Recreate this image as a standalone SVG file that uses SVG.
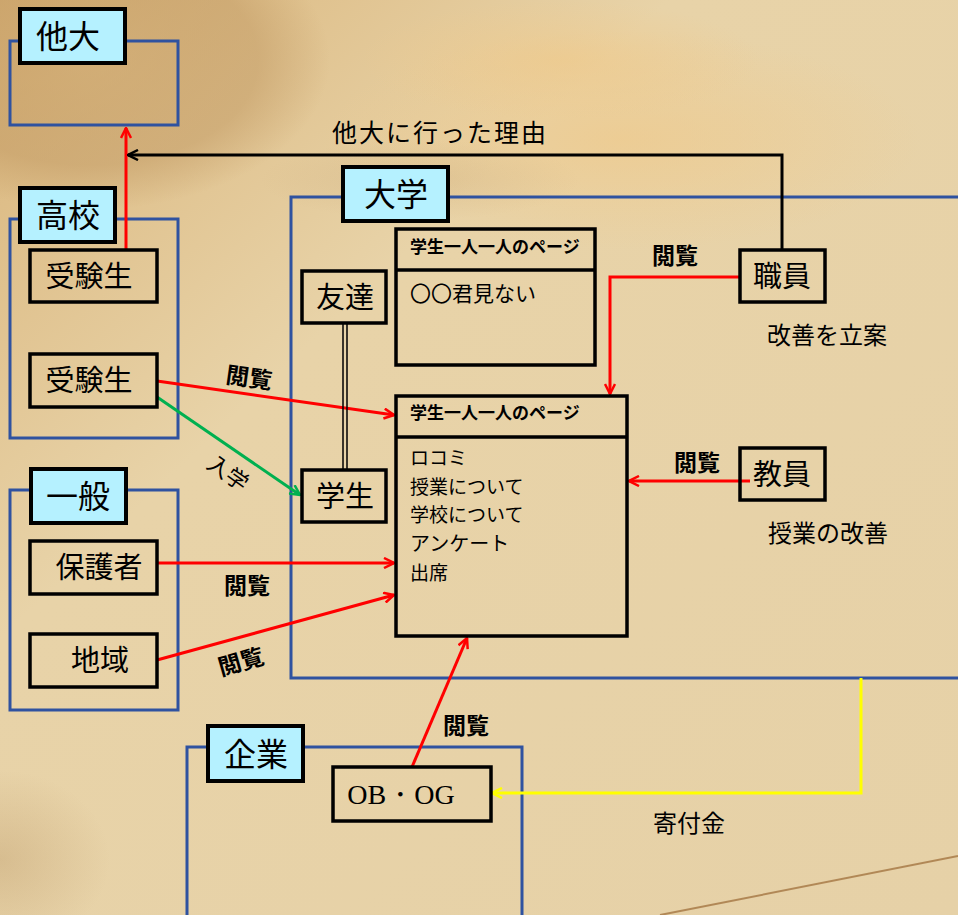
<svg xmlns="http://www.w3.org/2000/svg" width="958" height="915" viewBox="0 0 958 915">
<defs>
<linearGradient id="bg" x1="0" y1="0" x2="1" y2="1">
<stop offset="0" stop-color="#d9b47a"/>
<stop offset="0.35" stop-color="#e8d3a8"/>
<stop offset="1" stop-color="#e6d1a7"/>
</linearGradient>
<radialGradient id="compass" cx="0.5" cy="0.5" r="0.5">
<stop offset="0" stop-color="#c9a26a" stop-opacity="0.55"/>
<stop offset="0.7" stop-color="#b98f58" stop-opacity="0.4"/>
<stop offset="1" stop-color="#b98f58" stop-opacity="0"/>
</radialGradient>
<radialGradient id="warm" cx="0.5" cy="0.5" r="0.5">
<stop offset="0" stop-color="#efc98a" stop-opacity="0.65"/>
<stop offset="1" stop-color="#efc98a" stop-opacity="0"/>
</radialGradient>
<radialGradient id="dark" cx="0.5" cy="0.5" r="0.5">
<stop offset="0" stop-color="#b08a58" stop-opacity="0.3"/>
<stop offset="1" stop-color="#b08a58" stop-opacity="0"/>
</radialGradient>
<marker id="ar" viewBox="0 0 12 12" refX="11" refY="6" markerWidth="12" markerHeight="12" markerUnits="userSpaceOnUse" orient="auto">
<path d="M1,1 L11,6 L1,11" fill="none" stroke="#ff0000" stroke-width="2.5"/>
</marker>
<marker id="ak" viewBox="0 0 12 12" refX="11" refY="6" markerWidth="12" markerHeight="12" markerUnits="userSpaceOnUse" orient="auto">
<path d="M1,1 L11,6 L1,11" fill="none" stroke="#000" stroke-width="2.5"/>
</marker>
<marker id="ag" viewBox="0 0 12 12" refX="11" refY="6" markerWidth="12" markerHeight="12" markerUnits="userSpaceOnUse" orient="auto">
<path d="M1,1 L11,6 L1,11" fill="none" stroke="#00b050" stroke-width="2.5"/>
</marker>
<marker id="ay" viewBox="0 0 12 12" refX="11" refY="6" markerWidth="12" markerHeight="12" markerUnits="userSpaceOnUse" orient="auto">
<path d="M1,1 L11,6 L1,11" fill="none" stroke="#ffff00" stroke-width="2.5"/>
</marker>
</defs>
<style>
text { font-family: "Noto Sans CJK JP", "Noto Sans CJK SC", sans-serif; fill: #000; }
.grp { fill: none; stroke: #2f52a0; stroke-width: 3; }
.lab { fill: #b5f1ff; stroke: #000; stroke-width: 4; }
.box { fill: none; stroke: #000; stroke-width: 3.5; }
.t32 { font-size: 32px; text-anchor: middle; }
.t29 { font-size: 29px; text-anchor: middle; }
.t21 { font-size: 21px; }
.t19 { font-size: 19px; }
.hd { font-size: 17px; font-weight: bold; }
.lk { font-size: 23px; font-weight: bold; text-anchor: middle; }
.cm { font-size: 24px; text-anchor: middle; }
.red { fill: none; stroke: #ff0000; stroke-width: 3; marker-end: url(#ar); }
</style>
<!-- background -->
<rect width="958" height="915" fill="url(#bg)"/>
<ellipse cx="90" cy="60" rx="240" ry="150" fill="url(#compass)"/>
<ellipse cx="620" cy="140" rx="300" ry="110" fill="url(#warm)"/>
<ellipse cx="560" cy="60" rx="200" ry="60" fill="url(#warm)"/>
<ellipse cx="0" cy="860" rx="110" ry="90" fill="url(#dark)"/>
<ellipse cx="420" cy="180" rx="160" ry="40" fill="url(#dark)" opacity="0.6"/>
<path d="M660,915 L958,856" stroke="#9c6a35" stroke-width="2" opacity="0.7"/>

<!-- groups -->
<g id="tadai">
<rect class="grp" x="10" y="41" width="168" height="84"/>
<rect class="lab" x="20" y="9" width="105" height="54"/>
<text class="t32" x="68" y="48">他大</text>
</g>
<g id="koukou">
<rect class="grp" x="10" y="219" width="168" height="219"/>
<rect class="lab" x="20" y="188" width="95" height="54"/>
<text class="t32" x="68" y="227">高校</text>
</g>
<g id="ippan">
<rect class="grp" x="10" y="490" width="168" height="220"/>
<rect class="lab" x="31" y="469" width="95" height="54"/>
<text class="t32" x="78" y="508">一般</text>
</g>
<g id="daigaku">
<rect class="grp" x="291" y="197" width="680" height="481"/>
<rect class="lab" x="343" y="167" width="105" height="54"/>
<text class="t32" x="396" y="206">大学</text>
</g>
<g id="kigyou">
<rect class="grp" x="187" y="747" width="335" height="190"/>
<rect class="lab" x="208" y="726" width="95" height="55"/>
<text class="t32" x="256" y="766">企業</text>
</g>

<!-- connectors -->
<g id="connectors">
<path class="red" d="M126,250 L126,128"/>
<path d="M782,250 L782,155 L128,155" fill="none" stroke="#000" stroke-width="3" marker-end="url(#ak)"/>
<path class="red" d="M740,277 L610,277 L610,394"/>
<path class="red" d="M157,381 L394,415"/>
<path d="M157,397 L300,495" fill="none" stroke="#00b050" stroke-width="3" marker-end="url(#ag)"/>
<path class="red" d="M157,563 L394,563"/>
<path class="red" d="M157,660 L394,595"/>
<path class="red" d="M750,481 L629,481"/>
<path class="red" d="M412,767 L467,638"/>
<path d="M861,678 L861,793 L492,793" fill="none" stroke="#ffff00" stroke-width="3" marker-end="url(#ay)"/>
<path d="M343,323 L343,470 M347,323 L347,470" fill="none" stroke="#000" stroke-width="1.5"/>
</g>

<!-- connector labels -->
<text x="440" y="142" text-anchor="middle" style="font-size:25px;letter-spacing:2px">他大に行った理由</text>
<text class="lk" x="675" y="264">閲覧</text>
<text class="lk" x="249" y="386" transform="rotate(8 249 378)">閲覧</text>
<text x="228" y="481" text-anchor="middle" style="font-size:22px" transform="rotate(35 228 473)">入学</text>
<text class="lk" x="247" y="594">閲覧</text>
<text class="lk" x="241" y="670" transform="rotate(-16 241 662)">閲覧</text>
<text class="lk" x="697" y="471">閲覧</text>
<text class="lk" x="466" y="734">閲覧</text>
<text class="cm" x="689" y="832">寄付金</text>
<text class="cm" x="827" y="344">改善を立案</text>
<text class="cm" x="828" y="542">授業の改善</text>

<!-- nodes -->
<g id="juken1">
<rect class="box" x="30" y="250" width="127" height="52"/>
<text class="t29" x="89" y="287">受験生</text>
</g>
<g id="juken2">
<rect class="box" x="30" y="354" width="127" height="53"/>
<text class="t29" x="89" y="391">受験生</text>
</g>
<g id="hogosha">
<rect class="box" x="30" y="541" width="127" height="53"/>
<text class="t29" x="99" y="578">保護者</text>
</g>
<g id="chiiki">
<rect class="box" x="30" y="634" width="127" height="53"/>
<text class="t29" x="100" y="671">地域</text>
</g>
<g id="tomodachi">
<rect class="box" x="302" y="271" width="84" height="52"/>
<text class="t29" x="345" y="308">友達</text>
</g>
<g id="gakusei">
<rect class="box" x="302" y="470" width="84" height="52"/>
<text class="t29" x="345" y="507">学生</text>
</g>
<g id="shokuin">
<rect class="box" x="740" y="250" width="85" height="52"/>
<text class="t29" x="782" y="287">職員</text>
</g>
<g id="kyouin">
<rect class="box" x="740" y="448" width="85" height="52"/>
<text class="t29" x="782" y="485">教員</text>
</g>
<g id="page1">
<rect class="box" x="396" y="229" width="199" height="136"/>
<line x1="396" y1="270" x2="595" y2="270" stroke="#000" stroke-width="3.5"/>
<text class="hd" x="410" y="253">学生一人一人のページ</text>
<text class="t21" x="410" y="301">〇〇君見ない</text>
</g>
<g id="page2">
<rect class="box" x="396" y="396" width="231" height="240"/>
<line x1="396" y1="437" x2="627" y2="437" stroke="#000" stroke-width="3.5"/>
<text class="hd" x="410" y="419">学生一人一人のページ</text>
<text class="t19" x="410" y="465">ロコミ</text>
<text class="t19" x="410" y="493.5">授業について</text>
<text class="t19" x="410" y="522">学校について</text>
<text class="t19" x="410" y="551" style="font-size:20px">アンケート</text>
<text class="t19" x="410" y="579.5">出席</text>
</g>
<g id="obog">
<rect class="box" x="333" y="767" width="158" height="54"/>
<text x="401" y="804" text-anchor="middle" style="font-family:'Liberation Serif',serif;font-size:28px">OB・OG</text>
</g>
</svg>
